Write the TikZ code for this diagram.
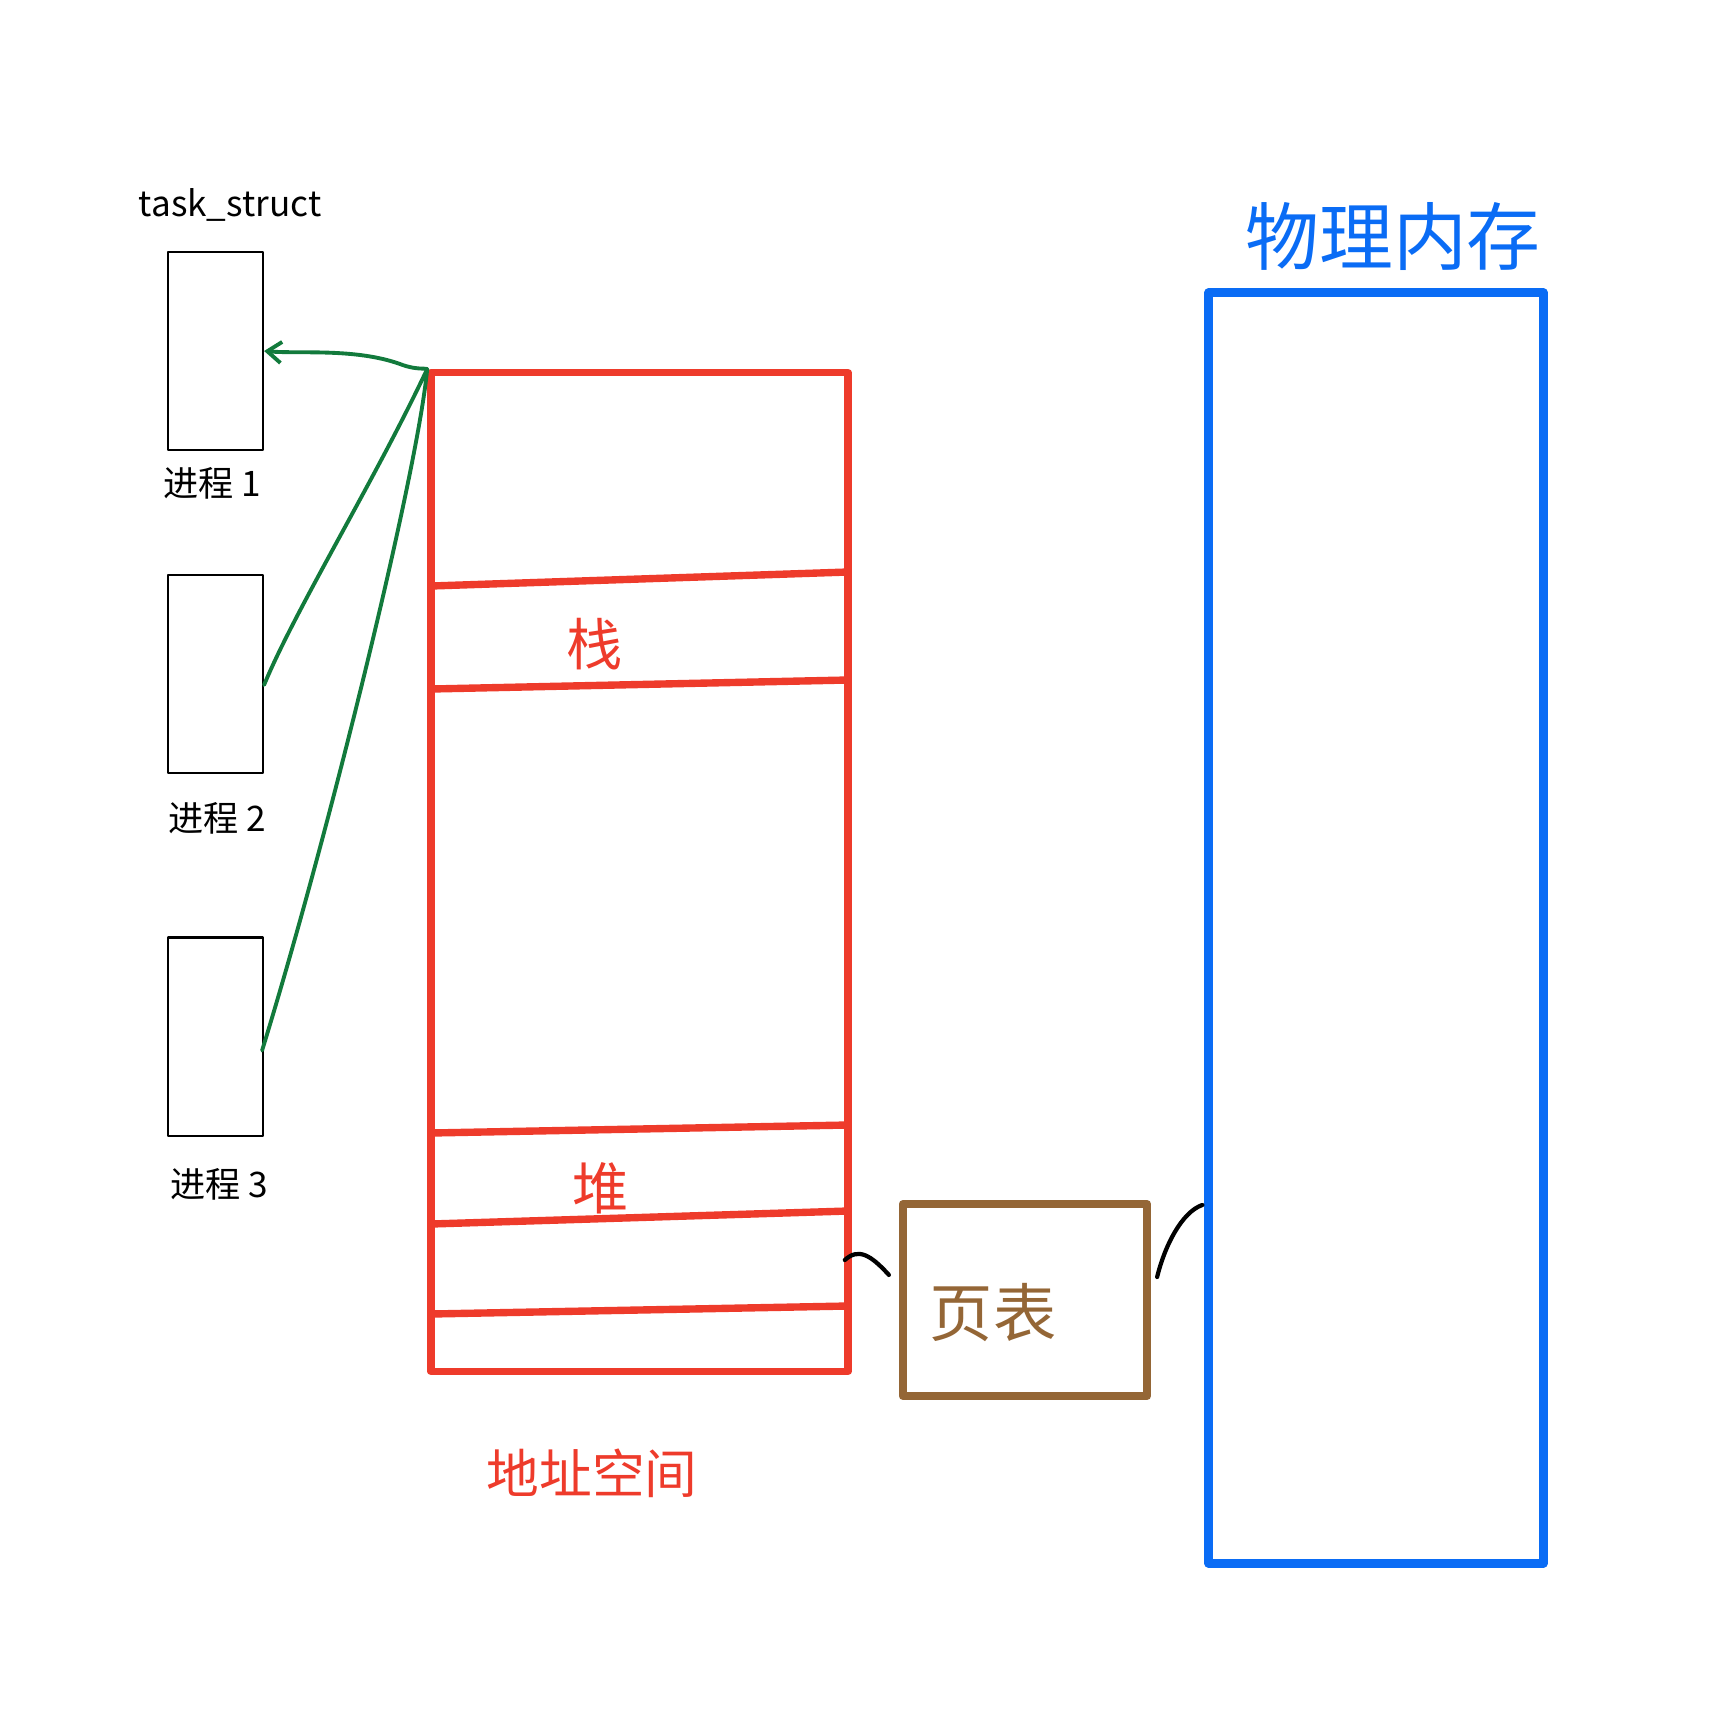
\documentclass[tikz,border=0pt]{standalone}
\usepackage{fontspec}
\newfontfamily\cjk{Noto Sans CJK SC}
\usetikzlibrary{calc,arrows.meta}
\definecolor{addrRed}{HTML}{EE3B2B}
\definecolor{memBlue}{HTML}{0A6CF5}
\definecolor{tabBrown}{HTML}{946636}
\definecolor{linkGreen}{HTML}{127A3C}
\tikzset{
    procbox/.style={draw=black,line width=0.6pt,minimum width=0.95cm,minimum height=1.98cm,inner sep=0pt},
    proclabel/.style={font=\cjk\fontsize{10}{10}\selectfont},
    redlabel/.style={text=addrRed,font=\cjk\fontsize{16}{16}\selectfont},
    greenlink/.style={draw=linkGreen,line width=1.1pt,line cap=round},
    blacklink/.style={draw=black,line width=1.2pt,line cap=round}
}
\begin{document}
\begin{tikzpicture}[x=0.01cm,y=-0.01cm,line join=round]

    \useasboundingbox (0,0) rectangle (1712,1720);

    %task_struct of each process:
    \node at (230,205) {\cjk\fontsize{10}{10}\selectfont task\_struct};
    \node[procbox] (proc1) at (215.5,351) {};
    \node[procbox] (proc2) at (215.5,674) {};
    \node[procbox] (proc3) at (215.5,1036.5) {};
    \node[proclabel] (lab1) at (212,483)  {进程 1};
    \node[proclabel] (lab2) at (217,818)  {进程 2};
    \node[proclabel] (lab3) at (219,1184) {进程 3};

    %address space:
    \node[draw=addrRed,line width=2.1pt,minimum width=4.17cm,minimum height=9.98cm,inner sep=0pt] (addr) at (639.5,872) {};
    \foreach \ya/\yb in {586/572,689/680,1133/1125,1224/1211,1314/1306} {
        \draw[addrRed,line width=2.1pt] (431,\ya) -- (848,\yb);
    }
    \node[redlabel] (stack) at (595,644)  {栈};
    \node[redlabel] (heap)  at (601,1188) {堆};
    \node[text=addrRed,font=\cjk\fontsize{15}{15}\selectfont] (addrlab) at (592,1473) {地址空间};

    %page table:
    \node[draw=tabBrown,line width=2.3pt,minimum width=2.44cm,minimum height=1.92cm,inner sep=0pt] (ptable) at (1025,1300) {};
    \node[text=tabBrown,font=\cjk\fontsize{18}{18}\selectfont] (ptlab) at (993,1313) {页表};

    %physical memory:
    \node[draw=memBlue,line width=2.6pt,minimum width=3.34cm,minimum height=12.70cm,inner sep=0pt] (phys) at (1376,928) {};
    \node[text=memBlue,font=\cjk\fontsize{21}{21}\selectfont] (physlab) at (1393,236) {物理内存};

    %processes share one address space:
    \draw[greenlink,{Straight Barb[length=4pt,width=6pt]}-] (proc1.east) .. controls (300,354) and (355,348) .. (400,364) .. controls (415,370) and (425,368) .. (addr.north west);
    \draw[greenlink] ($(proc2.east)+(0,11)$) .. controls (295,610) and (375,480) .. (addr.north west);
    \draw[greenlink] ($(proc3.east)+(-2,14)$) .. controls (330,830) and (418,470) .. (addr.north west);

    %address space -> page table -> physical memory:
    \draw[blacklink] ($(addr.south east)+(-7,-115)$) .. controls (858,1248) and (870,1254) .. ($(ptable.north west)+(-10,75)$);
    \draw[blacklink] ($(ptable.east)+(6,-23)$) .. controls (1165,1245) and (1182,1212) .. ($(phys.south west)+(-2,-363)$);

\end{tikzpicture}
\end{document}
